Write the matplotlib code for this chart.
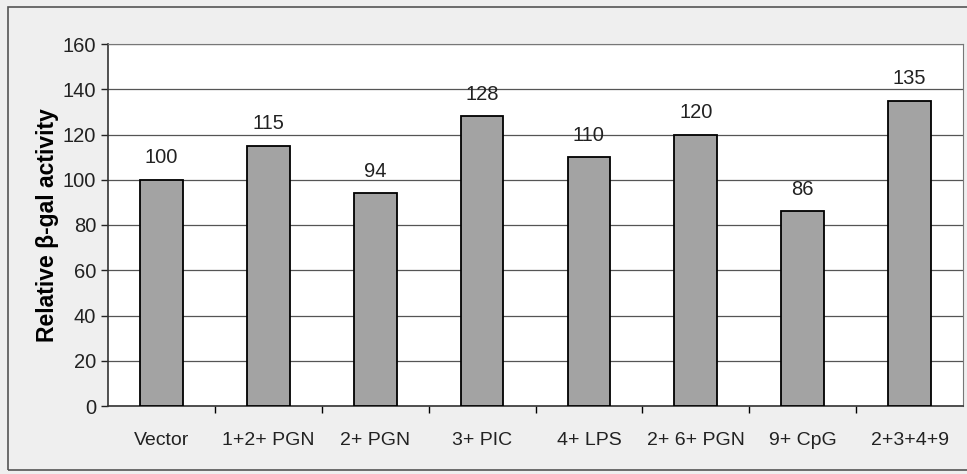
import matplotlib.pyplot as plt
import numpy as np
from matplotlib.patches import Rectangle

plt.rcParams['font.family'] = ['Liberation Sans', 'DejaVu Sans']

# Relative beta-gal activity per transfection/stimulation
labels = ['Vector', '1+2+ PGN', '2+ PGN', '3+ PIC', '4+ LPS', '2+ 6+ PGN', '9+ CpG', '2+3+4+9']
activity = [100, 115, 94, 128, 110, 120, 86, 135]

fig = plt.figure(figsize=(9.67, 4.74), dpi=100, facecolor='#efefef')
ax = fig.add_axes([108 / 967, 1 - 406 / 474, (963 - 108) / 967, (406 - 44) / 474])
ax.set_facecolor('white')

x = np.arange(len(labels))
ax.bar(x, activity, width=0.4, color='#a3a3a3', edgecolor='black', linewidth=1.3, zorder=3)
for xi, v in zip(x, activity):
    ax.text(xi, v + 5.5, str(v), ha='center', va='bottom', fontsize=14.5, color='#222222')

ax.set_xlim(-0.5, len(labels) - 0.5)
ax.set_ylim(0, 160)
ax.set_yticks(range(0, 161, 20))
ax.tick_params(axis='y', labelsize=14.5, length=5, width=1, colors='#222222')
ax.yaxis.grid(True, color='#555555', linewidth=0.9, zorder=0)

# category labels centred, tick marks between categories
ax.set_xticks(x)
ax.set_xticklabels(labels, fontsize=14)
ax.tick_params(axis='x', length=0, pad=19, colors='#222222')
ax.set_xticks(np.arange(0.5, len(labels) - 0.5), minor=True)
ax.tick_params(axis='x', which='minor', length=5, width=1, direction='out')

for side in ['top', 'right']:
    ax.spines[side].set_color('#777777')
for side in ['left', 'bottom']:
    ax.spines[side].set_color('#333333')
    ax.spines[side].set_linewidth(1.2)

ax.set_ylabel('Relative β-gal activity', fontsize=16.5, fontweight='bold', labelpad=3)

# outer chart frame
fig.patches.append(Rectangle((8 / 967, 4 / 474), 1.0, 1 - 11 / 474, transform=fig.transFigure,
                             fill=False, edgecolor='#555555', linewidth=1.2))

fig.savefig('out.png', dpi=100, facecolor=fig.get_facecolor())
